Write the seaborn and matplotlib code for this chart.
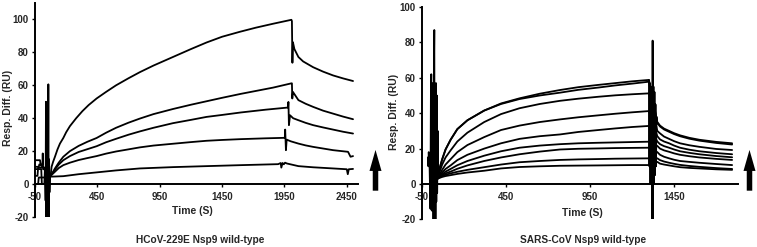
import numpy as np
import pandas as pd
import matplotlib
matplotlib.use("Agg")
import matplotlib.pyplot as plt
from matplotlib.patches import FancyArrow
import seaborn as sns

# ---------------- HCoV-229E Nsp9 (left panel) ----------------
# pre-injection baselines
hcov_base_t = [-50, -10, -5, 10, 12, 15, 25]
hcov_base_a = [14.5, 14.5, 12, 12, 18.6, 9, 9]
hcov_base_b_t = [-50, -20, -15, 20]
hcov_base_b = [10.5, 10.5, 12, 10]
hcov_base_c_t = [-50, 0, 5, 25]
hcov_base_c = [9.1, 9.1, 0, 0]
hcov_base_d_t = [-50, -30, -25, 25]
hcov_base_d = [5, 5, 10, 10]

# injection artefact
hcov_inj_t = [25, 30, 35, 38, 41, 44, 47, 50, 53, 57, 60, 63, 66, 70, 75]
hcov_inj_v = [0, 10, -10, 50, -21, 45, -21, 20, -21, 60.6, -21, 15, -5, 5, 5]

hcov_a_t = [75, 83, 95, 110, 130, 150, 177, 200, 230, 280, 330, 380, 444, 520, 600, 700,
            791, 900, 1056, 1200, 1325, 1450, 1592, 1720, 1859, 2006,
            2010, 2014, 2018, 2030, 2062, 2100, 2180, 2260, 2340, 2420, 2500]
hcov_a_v = [5, 10.5, 13.5, 16.6, 21, 24.6, 28, 31.5, 35.2, 40, 44.3, 48, 52, 56, 60, 64.3,
            68, 72, 77.2, 82, 86, 89.5, 92.5, 95, 97.4, 99.8,
            99, 73.7, 86.2, 82, 77.2, 74.5, 71, 68.3, 66, 64.2, 62.6]

hcov_b_t = [75, 95, 110, 140, 177, 230, 300, 370, 444, 520, 600, 700, 791, 900, 1056, 1200,
            1325, 1450, 1600, 1750, 1859, 2006,
            2010, 2013, 2018, 2062, 2120, 2180, 2260, 2340, 2420, 2500]
hcov_b_v = [5, 7.5, 9.5, 13, 16.6, 20, 23.2, 25.7, 28, 31.2, 34.2, 37.3, 39.8, 42.5, 45.6,
            48.2, 50.3, 52.4, 54.8, 57, 58.6, 61.2,
            61.2, 52, 56, 51, 48.8, 46.9, 44.6, 42.8, 41, 39.4]

hcov_c_t = [75, 95, 110, 140, 177, 230, 300, 370, 444, 520, 600, 700, 791, 900, 1056, 1200,
            1325, 1450, 1600, 1800, 1979,
            1982, 1986, 1995, 2020, 2062, 2120, 2180, 2260, 2340, 2420, 2500]
hcov_c_v = [5, 7, 8.8, 11.8, 14.5, 17, 19.5, 21.2, 23, 25.4, 27.5, 30, 32, 34.2, 37, 39,
            40.8, 42, 43.5, 45.2, 46.5,
            49.9, 35.8, 41.8, 40, 38.8, 37.2, 35.8, 34.4, 33.1, 31.8, 30.7]

hcov_d_t = [75, 110, 140, 177, 230, 300, 370, 444, 520, 600, 700, 791, 900, 1056, 1200,
            1325, 1450, 1600, 1800, 1953,
            1956, 1962, 1968, 2000, 2062, 2120, 2180, 2260, 2340, 2460, 2480, 2500]
hcov_d_v = [5, 7.5, 9.7, 11.5, 13, 14.6, 15.8, 17, 18.5, 19.8, 21.1, 22.3, 23.4, 24.5, 25.5,
            26.3, 26.8, 27.3, 27.8, 28.1,
            33.1, 20.6, 27, 26, 24.6, 23.5, 22.6, 21.6, 20.6, 19.6, 16.6, 17]

hcov_e_t = [-50, -25, -20, 25, 75, 177, 300, 444, 600, 791, 1056, 1325, 1600, 1900,
            1920, 1925, 1935, 1945, 1955, 1970, 2062, 2180, 2340, 2450, 2458, 2466, 2500]
hcov_e_v = [0, 0, 4, 4, 4.5, 4.8, 6, 7.1, 8.3, 9.5, 10.3, 10.9, 11.5, 12.1,
            12.8, 10, 12.8, 12, 13, 12.5, 10.9, 10.2, 9.5, 9, 6, 9, 9.2]

# ---------------- SARS-CoV Nsp9 (right panel) ----------------
sars_inj_t = [-15, -12, -10, -7, -5, 0, 3, 5, 8, 10, 13, 15, 18, 20, 23, 25, 28, 30,
              33, 35, 38, 40, 43, 45]
sars_inj_v = [15, 10, 18, 12, 10, -14, 55, 62, -15, 57, -12, 56, -22, 57, 87, -25, 55,
              -25, 57, -10, 50, -5, 30, 3]

sars_assoc_t = [40, 55, 70, 90, 120, 160, 220, 320, 420, 530, 650, 771, 880, 1000, 1100,
                1200, 1300]
sars_r1 = [3, 9, 14, 19.5, 25, 31, 36, 41.5, 45.5, 48.4, 51, 53.1, 54.7, 56, 57, 58, 58.8]
sars_r2 = [3, 9, 14, 19.5, 25, 31, 36, 41.5, 45.2, 48, 50, 51.6, 53.2, 54.5, 55.7, 56.7, 57.8]
sars_r3 = [3, 7, 11, 15, 19, 24, 29, 35, 39.5, 42.8, 45.2, 47, 48.2, 49.3, 50.1, 50.7, 51.2]
sars_r4 = [3, 5.5, 8, 11, 14, 18, 22, 26.5, 30.5, 33, 35, 36.5, 37.7, 38.8, 39.7, 40.5, 41.2]
sars_r5 = [3, 4.8, 6.5, 8.5, 10.5, 13.5, 16.5, 20, 23, 25.5, 27, 28, 29.4, 30.5, 31.4, 32.2,
           32.8]
sars_r6 = [3, 4.3, 5.5, 7, 8.5, 10.6, 13, 16, 18.5, 20.5, 21.7, 22.5, 23, 23.3, 23.5, 23.7,
           23.9]
sars_r7 = [3, 4, 5, 6, 7, 8.6, 10.5, 13, 15, 16.8, 18.3, 19.5, 19.9, 20.1, 20.3, 20.4, 20.5]
sars_r8 = [3, 3.7, 4.5, 5.2, 6, 6.9, 8, 9.5, 11, 12.3, 13, 13.6, 13.9, 14.1, 14.3, 14.4, 14.5]
sars_r9 = [3, 3.5, 4, 4.5, 5, 5.7, 6.5, 7.5, 8.8, 9.6, 10, 10.3, 10.4, 10.5, 10.6, 10.7, 10.7]

sars_diss_art_t = [1300, 1303, 1306, 1309, 1312, 1315, 1318, 1320, 1322, 1324, 1327,
                   1330, 1333, 1336, 1339, 1342, 1345, 1348]
sars_diss_art_v = [58.8, 10, 57, 0, 55, 2, 50, -25, 81, -25, 55, 0, 52, 5, 45, 10, 38, 34]

sars_diss_t = [1350, 1366, 1390, 1420, 1450, 1485, 1540, 1600, 1700, 1795]
sars_d1 = [35, 33, 31.3, 30, 28.7, 27.5, 26.1, 25, 23.8, 23]
sars_d2 = [34.5, 32.5, 30.8, 29.5, 28.2, 27, 25.6, 24.5, 23.2, 22.3]
sars_d3 = [30, 28.6, 26.8, 25.5, 24.2, 23, 21.9, 21, 19.8, 19.2]
sars_d4 = [27, 25.2, 24, 23, 21.7, 20.5, 19.4, 18.5, 17.5, 16.8]
sars_d5 = [24, 22.5, 21.4, 20.5, 19.5, 18.5, 17.6, 16.8, 15.8, 15.1]
sars_d6 = [21.5, 20, 19, 18.2, 17.3, 16.5, 15.7, 15, 14.2, 13.6]
sars_d7 = [18, 16.5, 15.4, 14.5, 13.7, 13, 12.5, 12, 11.3, 10.7]
sars_d8 = [14.5, 13.5, 12.7, 12, 11.4, 10.8, 10.2, 9.7, 9, 8.5]
sars_d9 = [12.5, 11.5, 11, 10.5, 10, 9.5, 9.1, 8.8, 8.3, 8]


def frame(pieces):
    rows = []
    for name, t, v in pieces:
        rows.append(pd.DataFrame({"time": t, "resp": v, "curve": name}))
    return pd.concat(rows, ignore_index=True)


hcov_df = frame([
    ("base_a", hcov_base_t, hcov_base_a),
    ("base_b", hcov_base_b_t, hcov_base_b),
    ("base_c", hcov_base_c_t, hcov_base_c),
    ("base_d", hcov_base_d_t, hcov_base_d),
    ("inj", hcov_inj_t, hcov_inj_v),
    ("a", hcov_a_t, hcov_a_v),
    ("b", hcov_b_t, hcov_b_v),
    ("c", hcov_c_t, hcov_c_v),
    ("d", hcov_d_t, hcov_d_v),
    ("e", hcov_e_t, hcov_e_v),
])

sars_assoc = [sars_r1, sars_r2, sars_r3, sars_r4, sars_r5, sars_r6, sars_r7, sars_r8, sars_r9]
sars_diss = [sars_d1, sars_d2, sars_d3, sars_d4, sars_d5, sars_d6, sars_d7, sars_d8, sars_d9]
sars_pieces = [("inj", sars_inj_t, sars_inj_v), ("art", sars_diss_art_t, sars_diss_art_v)]
for i, (a, d) in enumerate(zip(sars_assoc, sars_diss)):
    sars_pieces.append((f"r{i}", sars_assoc_t + sars_diss_t, a + d))
sars_df = frame(sars_pieces)

sns.set_style("ticks")
plt.rcParams["font.family"] = ["Liberation Sans", "DejaVu Sans"]
plt.rcParams["font.weight"] = "bold"
plt.rcParams["axes.unicode_minus"] = False

fig = plt.figure(figsize=(7.57, 2.47), dpi=100)
ax1 = fig.add_axes([0.04624, 0.12146, 0.4267, 0.8664])
ax2 = fig.add_axes([0.5575, 0.1117, 0.4174, 0.860])


def style(ax, xticks, xlim, ylim, xlab_xy, ylab_xy):
    ax.set_xlim(*xlim)
    ax.set_ylim(*ylim)
    ax.set_xticks(xticks)
    ax.set_yticks([-20, 0, 20, 40, 60, 80, 100])
    for s in ["top", "right"]:
        ax.spines[s].set_visible(False)
    ax.spines["bottom"].set_position(("data", 0))
    for s in ["left", "bottom"]:
        ax.spines[s].set_linewidth(1.4)
        ax.spines[s].set_color("black")
    ax.tick_params(axis="both", labelsize=7, width=1, length=2.5, color="black", pad=2)
    ax.tick_params(axis="x", pad=3.5)
    for lab in ax.get_xticklabels() + ax.get_yticklabels():
        lab.set_fontweight("bold")
    ax.set_xlabel("Time (S)", fontsize=7.5, fontweight="bold", va="center")
    ax.set_ylabel("Resp. Diff. (RU)", fontsize=7.5, fontweight="bold", va="center")
    ax.xaxis.set_label_coords(*xlab_xy)
    ax.yaxis.set_label_coords(*ylab_xy)


sns.lineplot(data=hcov_df, x="time", y="resp", units="curve", estimator=None, sort=False,
             color="black", lw=1.3, ax=ax1, legend=False)
sns.lineplot(data=sars_df, x="time", y="resp", units="curve", estimator=None, sort=False,
             color="black", lw=1.3, ax=ax2, legend=False)

style(ax1, [-50, 450, 950, 1450, 1950, 2450], (-50, 2540), (-20, 110),
      (0.486, 0.028), (-0.085, 0.509))
style(ax2, [-50, 450, 950, 1450], (-50, 1830), (-20, 100),
      (0.506, 0.030), (-0.0886, 0.504))

# panel captions
fig.text(200 / 757, 1 - 240 / 247, "HCoV-229E Nsp9 wild-type", ha="center", va="center",
         fontsize=7.3, fontweight="bold")
fig.text(583 / 757, 1 - 240 / 247, "SARS-CoV Nsp9 wild-type", ha="center", va="center",
         fontsize=7.3, fontweight="bold")

# big black up arrows
for xc in [375.5 / 757, 749.5 / 757]:
    fig.add_artist(FancyArrow(xc, 0.228, 0, 0.165, width=5.5 / 757, head_width=12 / 757,
                              head_length=0.085, length_includes_head=True,
                              transform=fig.transFigure, color="black", lw=0))

fig.savefig("out.png", dpi=100)
